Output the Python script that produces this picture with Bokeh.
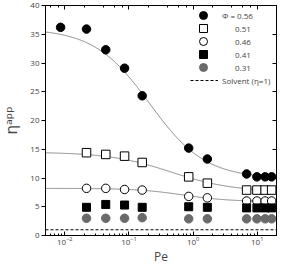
import numpy as np
from bokeh.plotting import figure
from bokeh.models import (LogAxis, LinearAxis, Legend, LegendItem,
                          FixedTicker, LogTicker)
from bokeh.embed import file_html
from bokeh.resources import INLINE

# ---------------- data ----------------
pe_056 = [0.0086, 0.0218, 0.0435, 0.0855, 0.161, 0.855, 1.67, 6.84, 9.9, 13.3, 16.8]
eta_056 = [36.2, 35.9, 32.3, 29.1, 24.3, 15.2, 13.3, 10.7, 10.2, 10.2, 10.2]

pe_all = [0.0218, 0.0435, 0.0855, 0.161, 0.855, 1.67, 6.84, 9.9, 13.3, 16.8]
eta_051 = [14.4, 14.1, 13.8, 12.7, 10.2, 9.1, 7.9, 7.9, 7.9, 7.9]
eta_046 = [8.2, 8.2, 8.0, 7.9, 6.8, 6.55, 6.0, 6.0, 6.0, 6.0]
eta_041 = [4.9, 5.4, 5.3, 4.9, 5.0, 4.9, 4.8, 4.8, 4.8, 4.8]
eta_031 = [3.0, 3.0, 3.0, 3.1, 2.9, 2.9, 2.9, 2.9, 2.9, 2.9]

# fitted model curves (eta0, eta_inf, Pe_c, exponent)
fit_056 = [36.0, 9.9, 0.21, 1.0]
fit_051 = [14.5, 7.6, 0.45, 0.9]
fit_046 = [8.2, 5.9, 0.7, 1.2]

solvent_eta = 1.0
legend_labels = ["\u03a6 = 0.56", "0.51", "0.46", "0.41", "0.31", "Solvent (\u03b7=1)"]
y_ticks = [0, 5, 10, 15, 20, 25, 30, 35, 40]
x_lim = (0.005, 20)
y_lim = (0, 40)

FONT = "Open Sans"
GREY = "#6a6a6a"
CURVE = "#707070"

# layout (pixels)
B_LEFT, B_TOP, B_RIGHT, B_BOTTOM = 45, 5, 2, 29
FRAME_W, FRAME_H = 231, 230

p = figure(frame_width=FRAME_W, frame_height=FRAME_H, x_axis_type="log",
           x_range=x_lim, y_range=y_lim, output_backend="svg", toolbar_location=None,
           min_border_left=B_LEFT, min_border_right=B_RIGHT,
           min_border_top=B_TOP, min_border_bottom=B_BOTTOM)
p.grid.visible = False
p.outline_line_color = "black"
p.outline_line_width = 1

# ---- axes ----
xa = p.xaxis[0]
xa.axis_label = "Pe"
xa.axis_label_text_font = FONT
xa.axis_label_text_font_size = "12px"
xa.axis_label_text_font_style = "normal"
xa.axis_label_standoff = 0
xa.major_label_standoff = 1
xa.major_label_text_font = FONT
xa.major_label_text_font_size = "8px"
xa.major_tick_in = 4
xa.major_tick_out = 0
xa.minor_tick_in = 2
xa.minor_tick_out = 0

ya = p.yaxis[0]
ya.ticker = FixedTicker(ticks=y_ticks)
ya.axis_label = "\u03b7\u1d43\u1d56\u1d56"
ya.axis_label_text_font = "DejaVu Sans"
ya.axis_label_text_font_size = "15px"
ya.axis_label_text_font_style = "normal"
ya.axis_label_standoff = 6
ya.major_label_text_font = FONT
ya.major_label_text_font_size = "8px"
ya.major_label_standoff = 2
ya.major_tick_in = 0
ya.major_tick_out = 4
ya.minor_tick_line_color = None

top = LogAxis(ticker=LogTicker(), major_label_text_font_size="1px",
              major_label_text_color=None, major_label_standoff=0,
              major_tick_in=4, major_tick_out=0, minor_tick_in=2, minor_tick_out=0)
p.add_layout(top, "above")
right = LinearAxis(ticker=FixedTicker(ticks=y_ticks), major_label_text_font_size="1px",
                   major_label_text_color=None, major_label_standoff=0,
                   major_tick_in=4, major_tick_out=0, minor_tick_line_color=None)
p.add_layout(right, "right")

# ---- fit curves ----
pe_fit = np.logspace(np.log10(x_lim[0]), np.log10(x_lim[1]), 300)
for e0, einf, pec, m in (fit_056, fit_051, fit_046):
    p.line(pe_fit, einf + (e0 - einf) / (1 + (pe_fit / pec) ** m),
           line_color=CURVE, line_width=0.8)

solv = p.line(list(x_lim), [solvent_eta, solvent_eta], line_color="black",
              line_width=1, line_dash="3 2")

# ---- data ----
r56 = p.scatter(pe_056, eta_056, marker="circle", size=8.5, fill_color="black", line_color="black")
r51 = p.scatter(pe_all, eta_051, marker="square", size=8.5, fill_color="white",
                line_color="black", line_width=1)
r46 = p.scatter(pe_all, eta_046, marker="circle", size=8.5, fill_color="white",
                line_color="black", line_width=1)
r41 = p.scatter(pe_all, eta_041, marker="square", size=8, fill_color="black", line_color="black")
r31 = p.scatter(pe_all, eta_031, marker="circle", size=8.5, fill_color=GREY, line_color=GREY)

# ---- legend: one small legend per row (positions in picture pixels) ----
frame_bottom = B_TOP + FRAME_H
row_centers = [15, 28, 41, 54, 67, 80]
marker_cx = 203
standoffs = [9, 22, 22, 22, 22]
for rend, lab, cy, so in zip([r56, r51, r46, r41, r31], legend_labels[:5], row_centers[:5], standoffs):
    lg = Legend(items=[LegendItem(label=lab, renderers=[rend])],
                location=(marker_cx - 10 - B_LEFT, frame_bottom - (cy + 10)),
                glyph_width=20, glyph_height=20, label_height=20, padding=0, margin=0,
                label_standoff=so, label_text_font=FONT, label_text_font_size="8px",
                border_line_color=None, background_fill_alpha=0)
    p.add_layout(lg, "center")

lg = Legend(items=[LegendItem(label=legend_labels[5], renderers=[solv])],
            location=(marker_cx - 13 - B_LEFT, frame_bottom - (row_centers[5] + 10)),
            glyph_width=28, glyph_height=20, label_height=20, padding=0, margin=0,
            label_standoff=4, label_text_font=FONT, label_text_font_size="8px",
            border_line_color=None, background_fill_alpha=0)
p.add_layout(lg, "center")

open("out.html", "w").write(file_html(p, INLINE))
